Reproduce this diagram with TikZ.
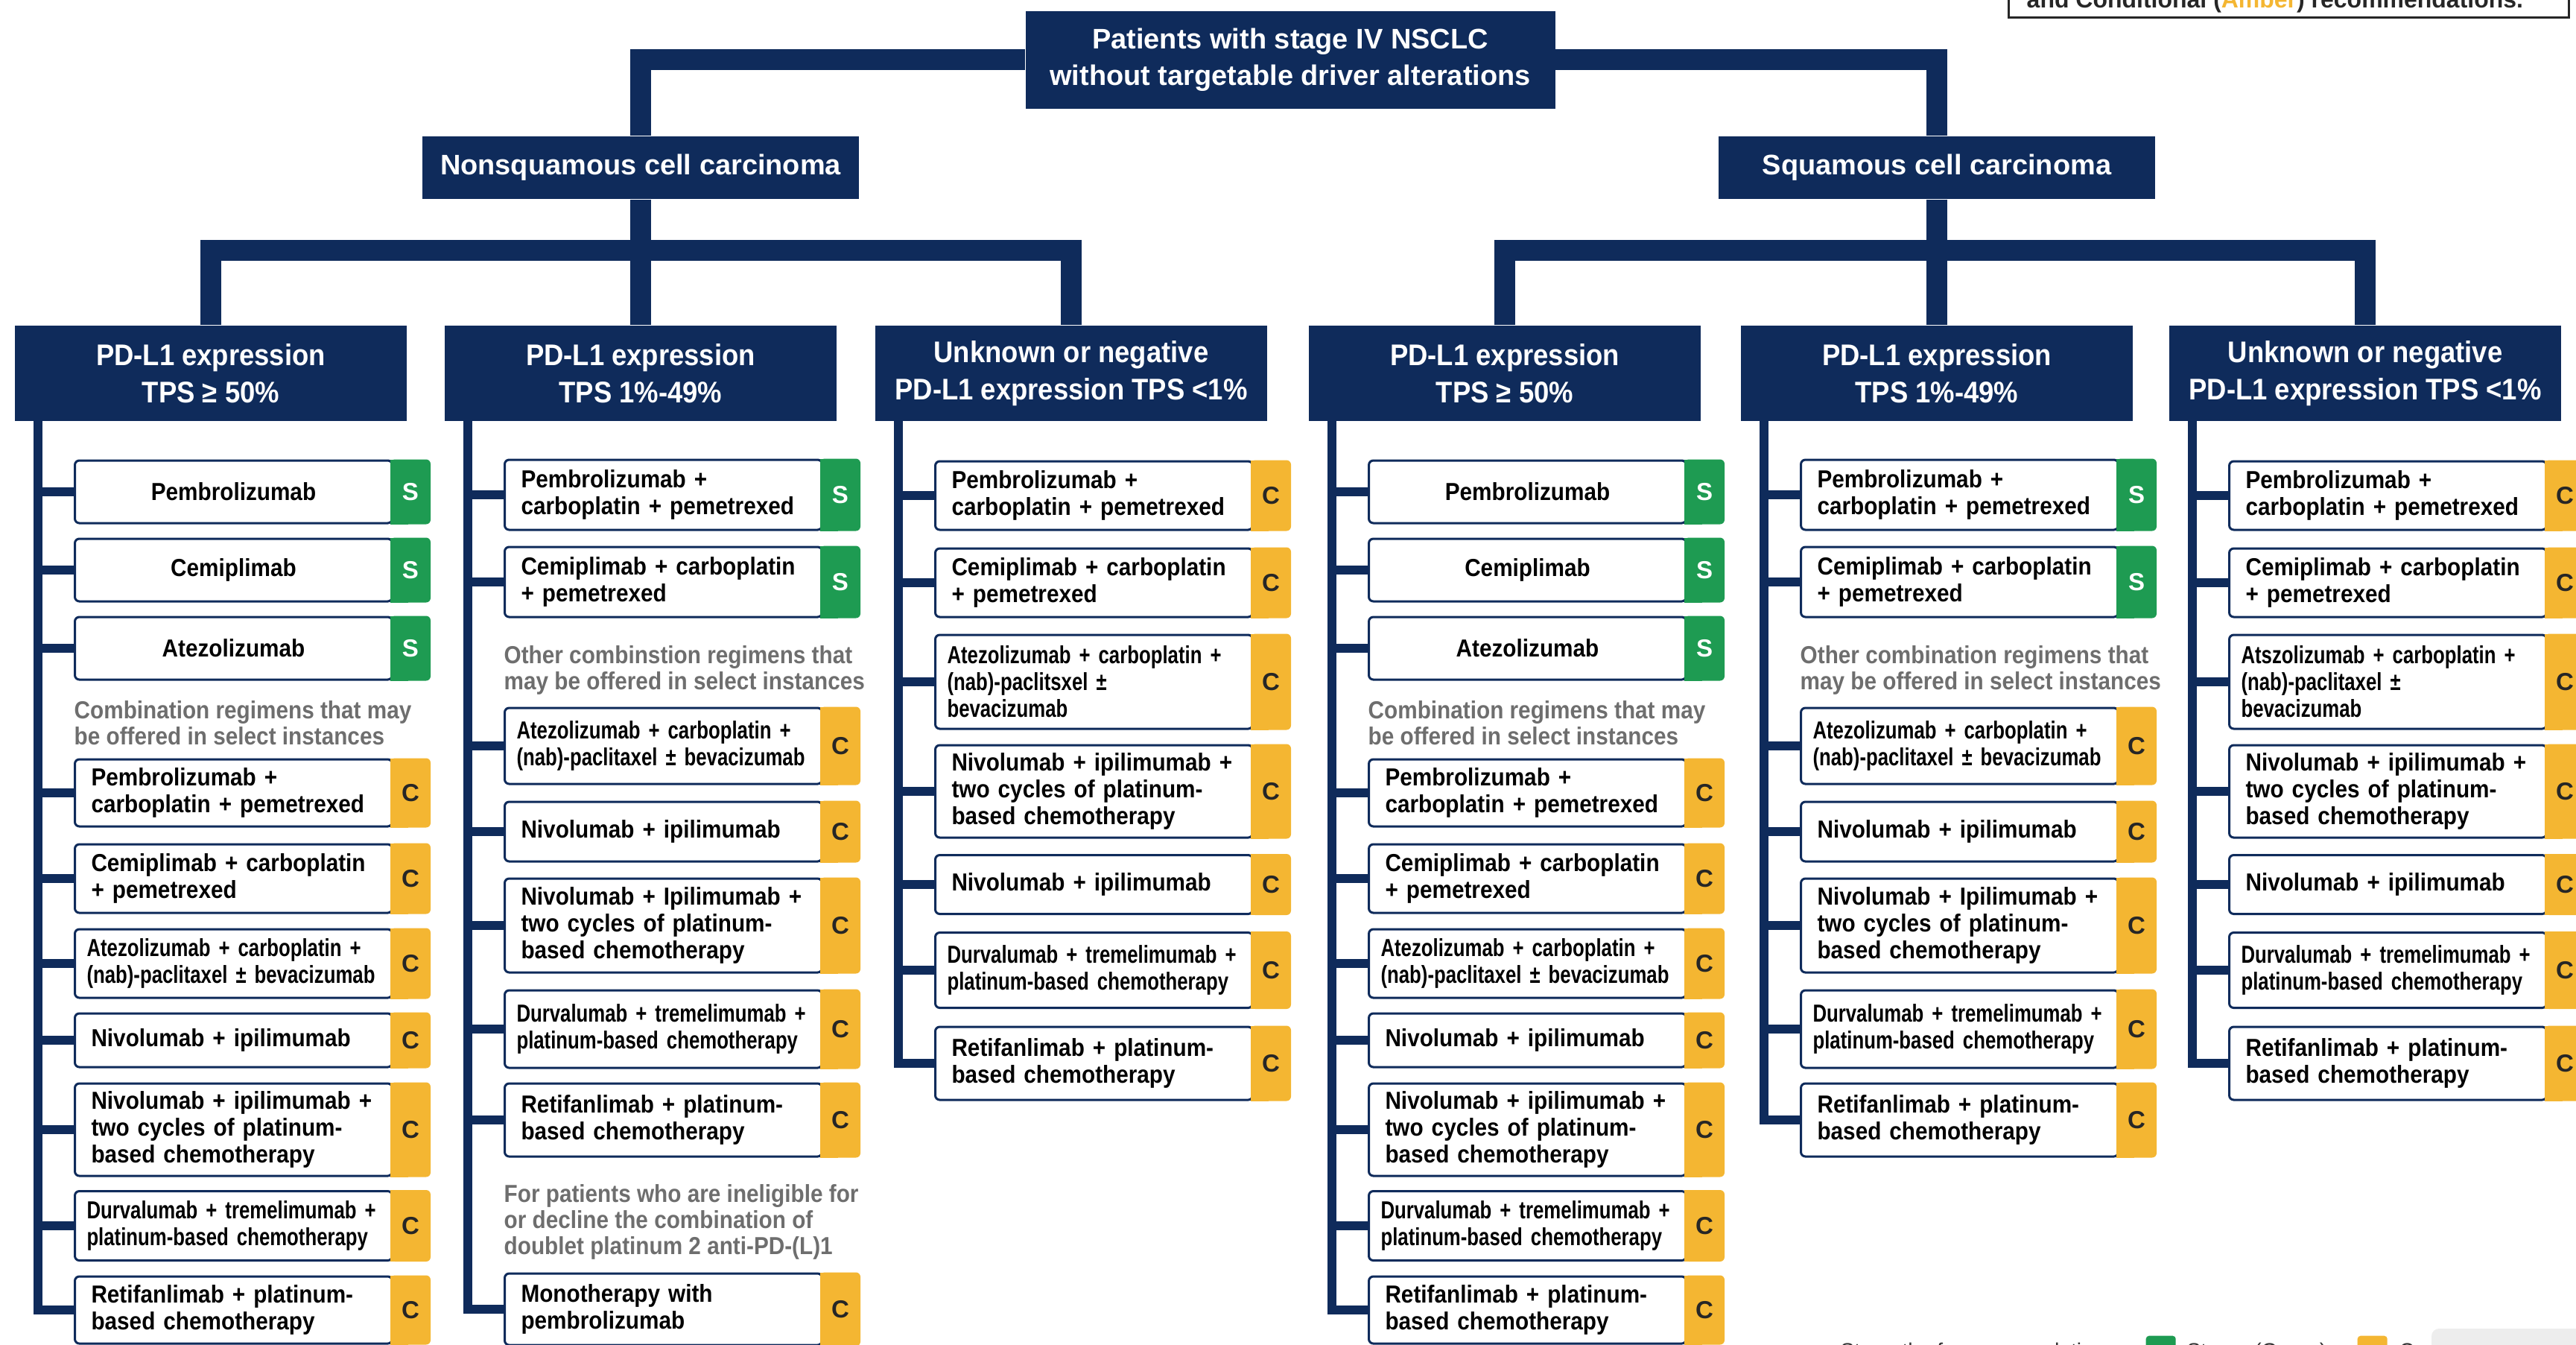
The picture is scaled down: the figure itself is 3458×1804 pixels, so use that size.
\documentclass[tikz,border=0pt]{standalone}
\usepackage{fontspec}
\setmainfont{Liberation Sans}
\font\iciboxf="Liberation Sans Bold:extend=0.9" at 9.4pt
\font\icitightf="Liberation Sans Bold:extend=0.78" at 9.4pt
\font\iciheadf="Liberation Sans Bold:extend=0.91" at 11.4pt
\newcommand{\icitxt}{\iciboxf\baselineskip=10.2pt\relax}
\newcommand{\icitighttxt}{\icitightf\baselineskip=10.2pt\relax}
\newcommand{\icinotetxt}{\iciboxf\baselineskip=9.96pt\relax}
\newcommand{\iciheadtxt}{\iciheadf\baselineskip=14.2pt\relax}
\usetikzlibrary{positioning,calc}
\definecolor{icinavy}{HTML}{0F2B5B}
\definecolor{icigreen}{HTML}{1E9B52}
\definecolor{iciamber}{HTML}{F4B632}
\tikzset{
  ici/root/.style={fill=icinavy, text=white, align=center, minimum width=71.1mm, minimum height=13.1mm, inner sep=0pt, font=\bfseries\fontsize{10.8pt}{13.9pt}\selectfont},
  ici/histo/.style={fill=icinavy, text=white, align=center, minimum width=58.6mm, minimum height=8.4mm, inner sep=0pt, font=\bfseries\fontsize{10.8pt}{13.9pt}\selectfont},
  ici/pdl1/.style={fill=icinavy, text=white, align=center, minimum width=52.6mm, minimum height=12.8mm, inner sep=0pt, font=\iciheadtxt},
  ici/regimen/.style={anchor=west, draw=icinavy, line width=0.3mm, fill=white, rounded corners=0.6mm, text width=38.2mm, inner xsep=2.2mm, inner ysep=0pt, align=left, font=\icitxt},
  ici/single/.style={align=center},
  ici/tight/.style={font=\icitighttxt, text width=39.4mm, inner xsep=1.6mm},
  ici/note/.style={anchor=west, inner sep=0pt, align=left, text=black!57, font=\icinotetxt},
  ici/tree/.style={draw=icinavy, line width=2.8mm},
  ici/spine/.style={draw=icinavy, line width=1.2mm},
  ici/Sfill/.style={fill=icigreen},
  ici/Cfill/.style={fill=iciamber},
  ici/Sletter/.style={text=white, inner sep=0pt, font=\bfseries\fontsize{9.4pt}{10pt}\selectfont},
  ici/Cletter/.style={text=black!85, inner sep=0pt, font=\bfseries\fontsize{9.4pt}{10pt}\selectfont},
  ici/legend/.style={draw=black!85, line width=0.3mm, fill=white, minimum width=75.2mm, minimum height=12.4mm, inner sep=0pt},
  ici/keytext/.style={anchor=base west, inner sep=0pt, text=black!85, font=\bfseries\fontsize{9.1pt}{10pt}\selectfont},
  ici/keysmall/.style={anchor=base west, inner sep=0pt, text=black!80, font=\fontsize{8pt}{9pt}\selectfont},
  ici/keybox/.style={anchor=north west, inner sep=0pt, minimum width=4mm, minimum height=4mm, rounded corners=0.4mm}
}
\newcommand{\recbadge}[2]{%
  \fill[ici/#2fill, rounded corners=0.6mm] ([xshift=-0.4mm]#1.north east) rectangle ([xshift=5mm]#1.south east);
  \fill[ici/#2fill] ([xshift=-0.4mm]#1.north east) rectangle ([xshift=2mm]#1.south east);
  \node[ici/#2letter] (#1-rec) at ([xshift=2.3mm]#1.east) {#2};}

\begin{document}
\begin{tikzpicture}[x=0.1mm, y=-0.1mm]
  \useasboundingbox (0,0) rectangle (3458,1804);

  \node[ici/legend] (key) at (3072,-39) {};
  \node[ici/keytext] (keytxt) at (2720,10) {and Conditional (\textcolor{iciamber}{Amber}) recommendations.};

  \node[ici/root] (root) at (1732,80) {Patients with stage IV NSCLC\\without targetable driver alterations};
  \node[ici/histo] (nonsq) at (860,225) {Nonsquamous cell carcinoma};
  \node[ici/histo] (sq) at (2600,225) {Squamous cell carcinoma};

  \node[ici/pdl1] (h1) at (283,501) {PD-L1 expression\\TPS ≥ 50\%};
  \node[ici/pdl1] (h2) at (860,501) {PD-L1 expression\\TPS 1\%-49\%};
  \node[ici/pdl1] (h3) at (1438,501) {Unknown or negative\\PD-L1 expression TPS <1\%};
  \node[ici/pdl1] (h4) at (2020,501) {PD-L1 expression\\TPS ≥ 50\%};
  \node[ici/pdl1] (h5) at (2600,501) {PD-L1 expression\\TPS 1\%-49\%};
  \node[ici/pdl1] (h6) at (3175,501) {Unknown or negative\\PD-L1 expression TPS <1\%};

  \coordinate (nbar) at (860,336);
  \coordinate (sbar) at (2600,336);
  \draw[ici/tree] (root.west) -| (nonsq.north);
  \draw[ici/tree] (root.east) -| (sq.north);
  \draw[ici/tree] (nonsq.south) -- (h2.north);
  \draw[ici/tree] (h1.north) |- (nbar) -| (h3.north);
  \draw[ici/tree] (sq.south) -- (h5.north);
  \draw[ici/tree] (h4.north) |- (sbar) -| (h6.north);

  % nonsquamous, TPS >= 50%
  \coordinate (s1) at (51,565);
  \node[ici/regimen, ici/single, minimum height=8.4mm] (c1a) at (99,660) {Pembrolizumab};
  \node[ici/regimen, ici/single, minimum height=8.4mm] (c1b) at (99,765) {Cemiplimab};
  \node[ici/regimen, ici/single, minimum height=8.4mm] (c1c) at (99,870) {Atezolizumab};
  \node[ici/note] (n1) at (99,970) {Combination regimens that may\\be offered in select instances};
  \node[ici/regimen, minimum height=9.0mm] (c1d) at (99,1064) {Pembrolizumab +\\carboplatin + pemetrexed};
  \node[ici/regimen, minimum height=9.2mm] (c1e) at (99,1179) {Cemiplimab + carboplatin\\+ pemetrexed};
  \node[ici/regimen, ici/tight, minimum height=9.2mm] (c1f) at (99,1293) {Atezolizumab + carboplatin +\\(nab)-paclitaxel ± bevacizumab};
  \node[ici/regimen, minimum height=7.2mm] (c1g) at (99,1396) {Nivolumab + ipilimumab};
  \node[ici/regimen, minimum height=12.4mm] (c1h) at (99,1516) {Nivolumab + ipilimumab +\\two cycles of platinum-\\based chemotherapy};
  \node[ici/regimen, ici/tight, minimum height=9.3mm] (c1i) at (99,1645) {Durvalumab + tremelimumab +\\platinum-based chemotherapy};
  \node[ici/regimen, minimum height=9.0mm] (c1j) at (99,1758) {Retifanlimab + platinum-\\based chemotherapy};

  % nonsquamous, TPS 1%-49%
  \coordinate (s2) at (628,565);
  \node[ici/regimen, minimum height=9.4mm] (c2a) at (676,664) {Pembrolizumab +\\carboplatin + pemetrexed};
  \node[ici/regimen, minimum height=9.4mm] (c2b) at (676,781) {Cemiplimab + carboplatin\\+ pemetrexed};
  \node[ici/note] (n2) at (676,899) {Other combinstion regimens that\\may be offered in select instances};
  \node[ici/regimen, ici/tight, minimum height=10.2mm] (c2c) at (676,1001) {Atezolizumab + carboplatin +\\(nab)-paclitaxel ± bevacizumab};
  \node[ici/regimen, minimum height=8.0mm] (c2d) at (676,1116) {Nivolumab + ipilimumab};
  \node[ici/regimen, minimum height=12.6mm] (c2e) at (676,1242) {Nivolumab + Ipilimumab +\\two cycles of platinum-\\based chemotherapy};
  \node[ici/regimen, ici/tight, minimum height=10.4mm] (c2f) at (676,1381) {Durvalumab + tremelimumab +\\platinum-based chemotherapy};
  \node[ici/regimen, minimum height=9.8mm] (c2g) at (676,1503) {Retifanlimab + platinum-\\based chemotherapy};
  \node[ici/note] (n3) at (676,1640) {For patients who are ineligible for\\or decline the combination of\\doublet platinum 2 anti-PD-(L)1};
  \node[ici/regimen, minimum height=9.6mm] (c2h) at (676,1757) {Monotherapy with\\pembrolizumab};

  % nonsquamous, TPS <1%
  \coordinate (s3) at (1206,565);
  \node[ici/regimen, minimum height=9.2mm] (c3a) at (1254,665) {Pembrolizumab +\\carboplatin + pemetrexed};
  \node[ici/regimen, minimum height=9.2mm] (c3b) at (1254,782) {Cemiplimab + carboplatin\\+ pemetrexed};
  \node[ici/regimen, ici/tight, minimum height=12.6mm] (c3c) at (1254,915) {Atezolizumab + carboplatin +\\(nab)-paclitsxel ±\\bevacizumab};
  \node[ici/regimen, minimum height=12.4mm] (c3d) at (1254,1062) {Nivolumab + ipilimumab +\\two cycles of platinum-\\based chemotherapy};
  \node[ici/regimen, minimum height=7.9mm] (c3e) at (1254,1187) {Nivolumab + ipilimumab};
  \node[ici/regimen, ici/tight, minimum height=10.1mm] (c3f) at (1254,1302) {Durvalumab + tremelimumab +\\platinum-based chemotherapy};
  \node[ici/regimen, minimum height=9.8mm] (c3g) at (1254,1427) {Retifanlimab + platinum-\\based chemotherapy};

  % squamous, TPS >= 50%
  \coordinate (s4) at (1788,565);
  \node[ici/regimen, ici/single, minimum height=8.4mm] (c4a) at (1836,660) {Pembrolizumab};
  \node[ici/regimen, ici/single, minimum height=8.4mm] (c4b) at (1836,765) {Cemiplimab};
  \node[ici/regimen, ici/single, minimum height=8.4mm] (c4c) at (1836,870) {Atezolizumab};
  \node[ici/note] (n4) at (1836,970) {Combination regimens that may\\be offered in select instances};
  \node[ici/regimen, minimum height=9.0mm] (c4d) at (1836,1064) {Pembrolizumab +\\carboplatin + pemetrexed};
  \node[ici/regimen, minimum height=9.2mm] (c4e) at (1836,1179) {Cemiplimab + carboplatin\\+ pemetrexed};
  \node[ici/regimen, ici/tight, minimum height=9.2mm] (c4f) at (1836,1293) {Atezolizumab + carboplatin +\\(nab)-paclitaxel ± bevacizumab};
  \node[ici/regimen, minimum height=7.2mm] (c4g) at (1836,1396) {Nivolumab + ipilimumab};
  \node[ici/regimen, minimum height=12.4mm] (c4h) at (1836,1516) {Nivolumab + ipilimumab +\\two cycles of platinum-\\based chemotherapy};
  \node[ici/regimen, ici/tight, minimum height=9.3mm] (c4i) at (1836,1645) {Durvalumab + tremelimumab +\\platinum-based chemotherapy};
  \node[ici/regimen, minimum height=9.0mm] (c4j) at (1836,1758) {Retifanlimab + platinum-\\based chemotherapy};

  % squamous, TPS 1%-49%
  \coordinate (s5) at (2368,565);
  \node[ici/regimen, minimum height=9.4mm] (c5a) at (2416,664) {Pembrolizumab +\\carboplatin + pemetrexed};
  \node[ici/regimen, minimum height=9.4mm] (c5b) at (2416,781) {Cemiplimab + carboplatin\\+ pemetrexed};
  \node[ici/note] (n5) at (2416,899) {Other combination regimens that\\may be offered in select instances};
  \node[ici/regimen, ici/tight, minimum height=10.2mm] (c5c) at (2416,1001) {Atezolizumab + carboplatin +\\(nab)-paclitaxel ± bevacizumab};
  \node[ici/regimen, minimum height=8.0mm] (c5d) at (2416,1116) {Nivolumab + ipilimumab};
  \node[ici/regimen, minimum height=12.6mm] (c5e) at (2416,1242) {Nivolumab + Ipilimumab +\\two cycles of platinum-\\based chemotherapy};
  \node[ici/regimen, ici/tight, minimum height=10.4mm] (c5f) at (2416,1381) {Durvalumab + tremelimumab +\\platinum-based chemotherapy};
  \node[ici/regimen, minimum height=9.8mm] (c5g) at (2416,1503) {Retifanlimab + platinum-\\based chemotherapy};

  % squamous, TPS <1%
  \coordinate (s6) at (2943,565);
  \node[ici/regimen, minimum height=9.2mm] (c6a) at (2991,665) {Pembrolizumab +\\carboplatin + pemetrexed};
  \node[ici/regimen, minimum height=9.2mm] (c6b) at (2991,782) {Cemiplimab + carboplatin\\+ pemetrexed};
  \node[ici/regimen, ici/tight, minimum height=12.6mm] (c6c) at (2991,915) {Atszolizumab + carboplatin +\\(nab)-paclitaxel ±\\bevacizumab};
  \node[ici/regimen, minimum height=12.4mm] (c6d) at (2991,1062) {Nivolumab + ipilimumab +\\two cycles of platinum-\\based chemotherapy};
  \node[ici/regimen, minimum height=7.9mm] (c6e) at (2991,1187) {Nivolumab + ipilimumab};
  \node[ici/regimen, ici/tight, minimum height=10.1mm] (c6f) at (2991,1302) {Durvalumab + tremelimumab +\\platinum-based chemotherapy};
  \node[ici/regimen, minimum height=9.8mm] (c6g) at (2991,1427) {Retifanlimab + platinum-\\based chemotherapy};

  % spines and ticks
  \draw[ici/spine] (s1) |- (c1j.west);
  \draw[ici/spine] (s2) |- (c2h.west);
  \draw[ici/spine] (s3) |- (c3g.west);
  \draw[ici/spine] (s4) |- (c4j.west);
  \draw[ici/spine] (s5) |- (c5g.west);
  \draw[ici/spine] (s6) |- (c6g.west);
  \foreach \b in {c1a,c1b,c1c,c1d,c1e,c1f,c1g,c1h,c1i} \draw[ici/spine] (s1 |- \b.west) -- (\b.west);
  \foreach \b in {c2a,c2b,c2c,c2d,c2e,c2f,c2g} \draw[ici/spine] (s2 |- \b.west) -- (\b.west);
  \foreach \b in {c3a,c3b,c3c,c3d,c3e,c3f} \draw[ici/spine] (s3 |- \b.west) -- (\b.west);
  \foreach \b in {c4a,c4b,c4c,c4d,c4e,c4f,c4g,c4h,c4i} \draw[ici/spine] (s4 |- \b.west) -- (\b.west);
  \foreach \b in {c5a,c5b,c5c,c5d,c5e,c5f} \draw[ici/spine] (s5 |- \b.west) -- (\b.west);
  \foreach \b in {c6a,c6b,c6c,c6d,c6e,c6f} \draw[ici/spine] (s6 |- \b.west) -- (\b.west);

  % recommendation badges
  \foreach \b in {c1a,c1b,c1c,c2a,c2b,c4a,c4b,c4c,c5a,c5b} {\recbadge{\b}{S}}
  \foreach \b in {c1d,c1e,c1f,c1g,c1h,c1i,c1j,c2c,c2d,c2e,c2f,c2g,c2h,c3a,c3b,c3c,c3d,c3e,c3f,c3g} {\recbadge{\b}{C}}
  \foreach \b in {c4d,c4e,c4f,c4g,c4h,c4i,c4j,c5c,c5d,c5e,c5f,c5g,c6a,c6b,c6c,c6d,c6e,c6f,c6g} {\recbadge{\b}{C}}

  % key at the bottom edge
  \node[ici/keysmall] (keystr) at (2470,1822) {Strength of recommendation:};
  \node[ici/keybox, fill=icigreen] (keyS) at (2880,1792) {};
  \node[ici/keysmall] (keyStxt) at (2935,1822) {Strong (Green)};
  \node[ici/keybox, fill=iciamber] (keyC) at (3164,1792) {};
  \node[ici/keysmall] (keyCtxt) at (3220,1822) {Conditional (Amber)};
  \fill[black!7, rounded corners=1mm] (3264,1783) rectangle (3500,1900);
\end{tikzpicture}
\end{document}
